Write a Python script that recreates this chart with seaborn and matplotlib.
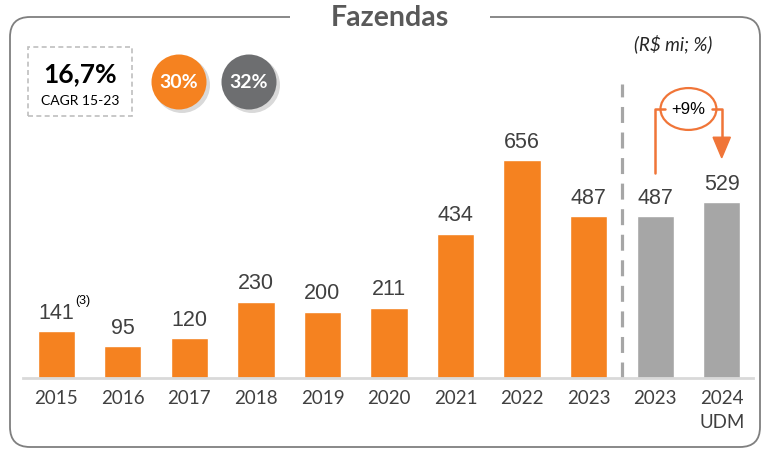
import matplotlib
matplotlib.use("Agg")
import matplotlib.pyplot as plt
from matplotlib.patches import FancyBboxPatch, Rectangle, Circle, Ellipse, Polygon
import seaborn as sns
import pandas as pd

# dados
categorias = ["2015", "2016", "2017", "2018", "2019", "2020", "2021", "2022", "2023", "2023", "2024\nUDM"]
valores = [141, 95, 120, 230, 200, 211, 434, 656, 487, 487, 529]
cores = ["#F58220"] * 9 + ["#A6A6A6"] * 2
cagr_txt = "16,7%"
cagr_lbl = "CAGR 15-23"
bolha_laranja = "30%"
bolha_cinza = "32%"
variacao = "+9%"

LARANJA = "#F58220"
SETA = "#F07538"
TEXTO = "#404040"

sns.set_style("white")
plt.rcParams['font.family'] = ['Lato', 'DejaVu Sans']

W, H = 766, 451
fig = plt.figure(figsize=(W / 100, H / 100), dpi=100)
inch = fig.dpi_scale_trans


def p(x, y):
    # pixel (topo-esquerda) -> polegadas
    return x / 100, (H - y) / 100


# moldura arredondada
fig.add_artist(FancyBboxPatch(p(10, 447), 7.50, 4.30, boxstyle="round,pad=0,rounding_size=0.2",
                              transform=inch, fill=False, edgecolor="#7F7F7F", linewidth=1.3))
fig.add_artist(Rectangle(p(290, 22), 2.0, 0.12, transform=inch, facecolor="white", edgecolor="none"))
fig.text(390 / W, 1 - 18 / H, "Fazendas", ha="center", va="center", fontsize=20.5,
         fontweight="bold", color="#595959")
fig.text(673 / W, 1 - 44 / H, "(R$ mi; %)", ha="center", va="center", fontsize=13.5,
         style="italic", color="#262626")

# caixa CAGR
fig.add_artist(Rectangle(p(28, 116), 1.04, 0.69, transform=inch, fill=False,
                         edgecolor="#BFBFBF", linestyle=(0, (3, 2)), linewidth=1.2))
fig.text(80 / W, 1 - 74 / H, cagr_txt, ha="center", va="center", fontsize=19,
         fontweight="bold", color="black")
fig.text(80 / W, 1 - 101 / H, cagr_lbl, ha="center", va="center", fontsize=10, color="black")

# bolhas
for cx, cor, txt in [(179, LARANJA, bolha_laranja), (249, "#6D6E70", bolha_cinza)]:
    fig.add_artist(Circle(p(cx + 3, 85), 0.28, transform=inch, facecolor="#000000",
                          alpha=0.15, edgecolor="none"))
    fig.add_artist(Circle(p(cx, 82), 0.275, transform=inch, facecolor=cor, edgecolor="none"))
    fig.text(cx / W, 1 - 83 / H, txt, ha="center", va="center", fontsize=14,
             fontweight="bold", color="white")

# barras
ax = fig.add_axes([23 / W, (H - 378) / H, 730 / W, 360 / H])
df = pd.DataFrame({"pos": range(len(valores)), "valor": valores})
sns.barplot(data=df, x="pos", y="valor", hue="pos", palette=cores, legend=False,
            width=0.56, saturation=1, ax=ax)
ax.set_xlim(-0.5, 10.47)
ax.set_ylim(0, 1084)
ax.set_xlabel("")
ax.set_ylabel("")
ax.set_yticks([])
ax.set_xticks(range(len(categorias)))
ax.set_xticklabels(categorias, fontsize=13.5, color=TEXTO, linespacing=1.45)
ax.tick_params(axis="x", length=0, pad=9)
for s in ["top", "left", "right"]:
    ax.spines[s].set_visible(False)
ax.spines["bottom"].set_color("#D9D9D9")
ax.spines["bottom"].set_linewidth(2)
ax.set_facecolor("none")

for i, v in enumerate(valores):
    ax.text(i, v + 54, str(v), ha="center", va="center", fontsize=15.5,
            family="Liberation Sans", color=TEXTO)
ax.text(0.29, 141 + 92, "(3)", ha="left", va="center", fontsize=9, color="black",
        family="Liberation Sans")

# linha tracejada separando
ax.plot([8.5, 8.5], [0, 885], color="#A6A6A6", linewidth=2.3, dashes=(5, 3),
        clip_on=False)

# colchete +9%
topo = 810
ax.plot([9, 9, 9.15], [valores[9] + 130, topo, topo], color=SETA, linewidth=1.8, clip_on=False)
ax.plot([9.85, 10, 10], [topo, topo, valores[10] + 196], color=SETA, linewidth=1.8, clip_on=False)
ax.add_patch(Polygon([[9.87, valores[10] + 196], [10.13, valores[10] + 196],
                      [10, valores[10] + 134]], closed=True, facecolor=SETA,
                     edgecolor=SETA, clip_on=False))
ax.add_patch(Ellipse((9.5, topo), 0.84, 126, facecolor="white", edgecolor=SETA,
                     linewidth=1.6, clip_on=False))
ax.text(9.5, topo - 3, variacao, ha="center", va="center", fontsize=12,
        family="Liberation Sans", color="black")

fig.savefig("out.png", dpi=100)
